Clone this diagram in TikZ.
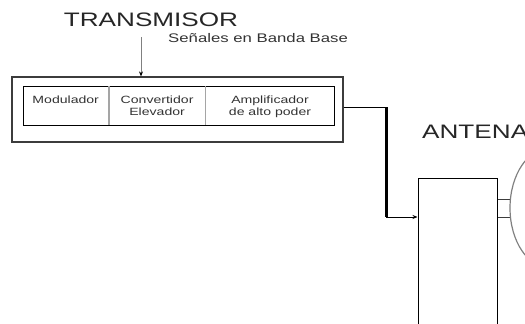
\documentclass[tikz,border=0pt]{standalone}
\usepackage{fontspec}
\setmainfont{Liberation Sans}[FakeStretch=1.34]
\usepackage{tikz}
\usetikzlibrary{shapes.geometric, arrows.meta, calc}
\definecolor{linegray}{RGB}{60, 60, 60}
\definecolor{cellgray}{RGB}{165, 165, 165}

\begin{document}
\begin{tikzpicture}[
  x=1pt, y=1pt,
  every node/.style={inner sep=0pt},
  title/.style={font=\fontsize{19.5}{22}\selectfont, text=black!85},
  note/.style={font=\fontsize{12.5}{14}\selectfont, text=black!80, anchor=west},
  celltext/.style={font=\fontsize{10.5}{12}\selectfont, text=black!80, align=center, anchor=north},
  frame/.style={draw=linegray, line width=1.2pt},
  cellbox/.style={minimum height=39pt},
  divider/.style={draw=cellgray, line width=1.5pt},
  >={Stealth[length=5pt, width=4pt]}
]
\useasboundingbox (0,0) rectangle (525,-324);
\node[title] (txtitle) at (151,-20) {TRANSMISOR};
\node[note] (bbnote) at (168,-38) {Señales en Banda Base};
\node[frame, minimum width=331pt, minimum height=65pt] (txbox) at (177.5,-109.5) {};
\node[draw=black, line width=1pt, minimum width=311pt, minimum height=39pt] (chain) at (178.5,-105.5) {};
\node[cellbox, minimum width=86pt, anchor=west] (modcell) at (chain.west) {};
\node[cellbox, minimum width=96pt, anchor=west] (convcell) at (modcell.east) {};
\node[cellbox, minimum width=129pt, anchor=west] (ampcell) at (convcell.east) {};
\draw[divider] (modcell.north east) -- (modcell.south east);
\draw[divider] (convcell.north east) -- (convcell.south east);
\node[celltext] (modtxt) at ($(modcell.north)+(0,-9.5)$) {Modulador};
\node[celltext] (convtxt) at ($(convcell.north)+(0,-9.5)$) {Convertidor\\Elevador};
\node[celltext] (amptxt) at ($(ampcell.north)+(0,-9.5)$) {Amplificador\\de alto poder};
\coordinate (bbin) at (141,-37);
\draw[-{Stealth[length=5pt, width=4pt, black]}, draw=gray, line width=1pt] (bbin) -- (bbin |- txbox.north);
\node[title, anchor=west] (anttitle) at (422,-131.5) {ANTENA};
\node[draw=black, line width=1pt, minimum width=79pt, minimum height=162pt] (antbox) at (457.5,-259) {};
\coordinate (bend1) at (386,-107);
\coordinate (bend2) at (386,-217);
\draw[line width=1pt] (txbox.east |- bend1) -- (bend1);
\draw[line width=3pt] (bend1) -- (bend2);
\draw[->, line width=1pt] (bend2) -- (antbox.west |- bend2);
\coordinate (feedA) at (511,-199);
\coordinate (feedB) at (511,-217);
\draw[line width=1pt, linegray] (antbox.east |- feedA) -- (feedA);
\draw[line width=1pt, linegray] (antbox.east |- feedB) -- (feedB);
\node[ellipse, draw=gray, line width=1.2pt, minimum width=80pt, minimum height=120pt] (dish) at (550,-208) {};
\end{tikzpicture}
\end{document}
